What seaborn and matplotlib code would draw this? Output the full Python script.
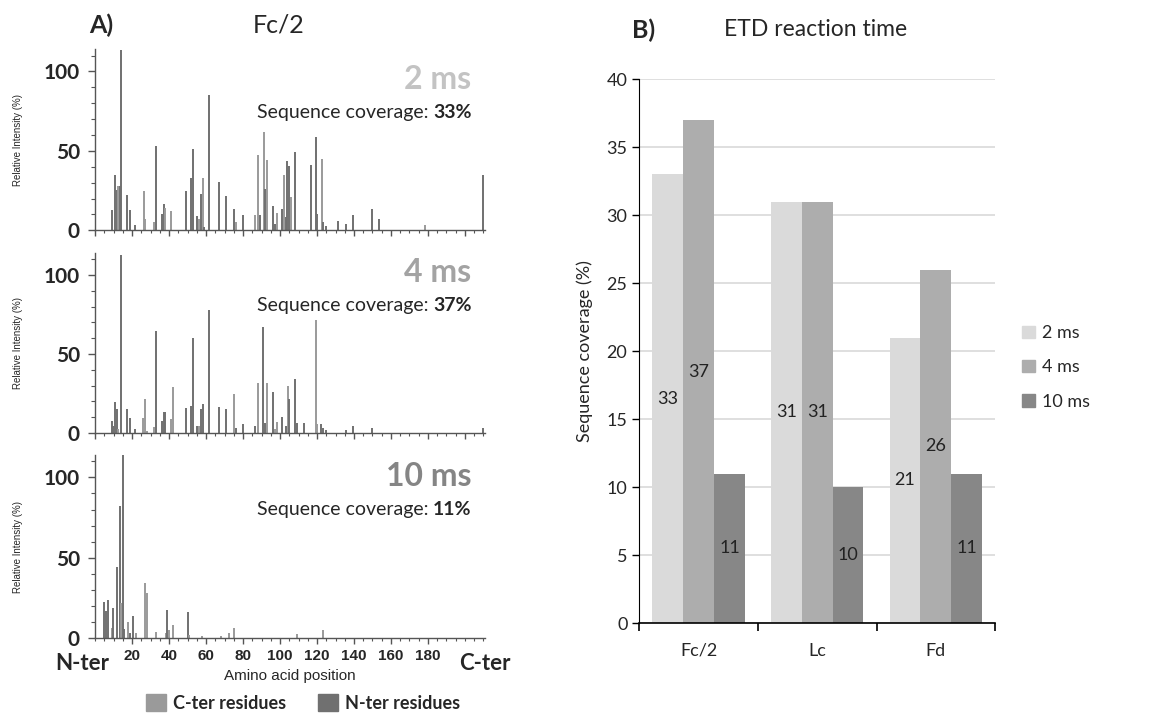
import numpy as np
import pandas as pd
import matplotlib
matplotlib.use("Agg")
import matplotlib.pyplot as plt
from matplotlib.ticker import MultipleLocator
from matplotlib.patches import Patch
import seaborn as sns

# ---- panel A: fragment spectra (position, relative intensity, terminus type) ----
pos_2ms = [9, 10.8, 11.7, 12.6, 13.2, 14.1, 17.3, 19.1, 21.3, 26.4, 26.9, 32, 33, 36, 37, 38, 41,
           49, 51.7, 52.8, 55, 56, 57.3, 58.2, 59.1, 61.3, 67, 70.5, 75.1, 76, 80.2, 86.5, 87.8,
           89.2, 91.2, 92, 93.2, 96.1, 97, 98.2, 101, 102.2, 103, 104, 105, 105.8, 108, 117,
           119.3, 120, 122.6, 123.4, 125, 131.6, 135.7, 139.3, 149.5, 153.5, 178.4, 210]
int_2ms = [12.6, 34.6, 25.6, 28, 28, 113.6, 22.4, 12.6, 3.6, 24.7, 7, 5, 52.8, 10.5, 16.4, 14.3, 12.2,
           24.5, 33, 51.4, 8.8, 7, 23, 33, 2, 85, 30.4, 21.8, 13.6, 5.2, 9.4, 9.9, 47.6,
           9.9, 61.8, 25.8, 44, 15, 4, 11, 13.6, 34.6, 8.4, 43.4, 40.5, 21, 49.3, 40.9,
           59, 10.5, 44.7, 5.2, 2.5, 5.9, 3.8, 9.4, 13.6, 7, 3.6, 35]
ter_2ms = list("NNNCNNNNNCCCNNNCC"
               "NNNNCNCNNNNNCNCCN"
               "CNCNNCNCNNNCNNNNC"
               "NNNNNNNCNNC")

pos_4ms = [9, 9.8, 10.8, 11.7, 12.6, 14.1, 17.3, 19.1, 21.3, 25.8, 26.9, 28, 32, 33, 36, 37, 38, 41,
           42.2, 49, 52, 53, 55.3, 56.2, 57.3, 58.4, 61.3, 67, 70.5, 75.1, 76, 80.2, 86.5, 88,
           91, 92, 93.2, 96.4, 97.3, 98.2, 101, 103.2, 104.1, 105, 108, 109.4, 113, 119.3,
           120.2, 122.2, 123.1, 125, 135.5, 139.6, 149.5, 209.8]
int_4ms = [7.7, 4, 19.6, 15.4, 2.3, 112.7, 14.8, 9.2, 2.3, 9.6, 21.3, 1, 3.5, 64.4, 7.7, 13.3, 13.3, 8.8,
           29, 16, 17, 60, 4.6, 4, 15, 18.5, 78, 16.5, 14.8, 24.8, 3.3, 5.4, 4, 31.9,
           67, 6, 31.5, 25.8, 2.3, 7, 10.2, 4.4, 30, 21.7, 34, 6, 6, 71.7,
           5.6, 5.4, 3.3, 2, 2, 4.6, 3, 3.3]
ter_4ms = list("NNNNCNNNNCCCCNNNNC"
               "CNNNNCNNNNNCNNNCN"
               "NCNCCNNCNNNNCCN"
               "NNNNNNNN")

pos_10ms = [4.9, 5.8, 6.7, 9, 9.9, 12, 13.2, 13.9, 15.3, 15.8, 18, 19, 20.2, 22, 27, 28, 33,
            38.2, 39.1, 40, 42, 50.2, 51, 58, 68, 72.5, 75.3, 109, 123]
int_10ms = [22.4, 16.7, 24, 6.5, 18.8, 44, 82.5, 22, 115, 5.7, 10.3, 3, 13.5, 3.4, 34, 28, 4,
            3.4, 17.7, 5, 8.2, 16, 1.9, 1.5, 1.5, 3, 6.1, 2.3, 5]
ter_10ms = list("NNNCNNNCNNCNNCCCC"
                "CNCCNCCCCCCC")

times = ["2 ms", "4 ms", "10 ms"]
coverage_A = ["33%", "37%", "11%"]
time_colors = ["#c3c3c3", "#a3a3a3", "#858585"]

# ---- panel B: sequence coverage ----
proteins = ["Fc/2", "Lc", "Fd"]
cov_2ms = [33, 31, 21]
cov_4ms = [37, 31, 26]
cov_10ms = [11, 10, 11]

sns.set_style("white")
plt.rcParams["font.family"] = ["Lato", "DejaVu Sans"]
narrow = ["Liberation Sans Narrow", "Liberation Sans", "DejaVu Sans"]

C_COL = "#9a9a9a"
N_COL = "#707070"

fig = plt.figure(figsize=(11.75, 7.13), dpi=100)

spectra = [(pos_2ms, int_2ms, ter_2ms), (pos_4ms, int_4ms, ter_4ms), (pos_10ms, int_10ms, ter_10ms)]
boxes = [[0.081, 0.677, 0.332, 0.254],
         [0.081, 0.393, 0.332, 0.252],
         [0.081, 0.105, 0.332, 0.257]]
time_y = [0.83, 0.89, 0.88]
cov_y = [0.65, 0.71, 0.70]

for i, (pos, inten, ter) in enumerate(spectra):
    ax = fig.add_axes(boxes[i])
    cols = [C_COL if t == "C" else N_COL for t in ter]
    ax.vlines(pos, 0, inten, colors=cols, lw=1.4)
    ax.set_xlim(0, 211)
    ax.set_ylim(0, 114)
    for s in ["top", "right"]:
        ax.spines[s].set_visible(False)
    for s in ["left", "bottom"]:
        ax.spines[s].set_color("#555555")
        ax.spines[s].set_linewidth(1.0)
    ax.set_yticks([0, 50, 100])
    ax.yaxis.set_minor_locator(MultipleLocator(10))
    ax.xaxis.set_major_locator(MultipleLocator(20))
    ax.xaxis.set_minor_locator(MultipleLocator(5))
    ax.tick_params(axis="y", which="major", length=5, width=1, color="#555555",
                   labelsize=15, pad=6, left=True)
    ax.tick_params(axis="y", which="minor", length=3, width=0.8, color="#555555", left=True)
    ax.tick_params(axis="x", which="major", length=4, width=1, color="#555555", bottom=True)
    ax.tick_params(axis="x", which="minor", length=2.5, width=0.8, color="#555555", bottom=True)
    for lab in ax.get_yticklabels():
        lab.set_fontweight("bold")
    ax.set_ylabel("Relative Intensity (%)", fontsize=7, family=narrow, labelpad=15)

    if i < 2:
        ax.set_xticklabels([])
    else:
        ax.set_xticks(np.arange(20, 181, 20))
        ax.set_xticklabels([str(v) for v in range(20, 181, 20)], family=narrow,
                           fontsize=11, fontweight="bold")
        ax.text(-7, -9, "N-ter", ha="center", va="top", fontsize=16, fontweight="bold")
        ax.text(211, -9, "C-ter", ha="center", va="top", fontsize=16, fontweight="bold")
        ax.set_xlabel("Amino acid position", family=narrow, fontsize=11, labelpad=5)

    ax.text(0.965, time_y[i], times[i], transform=ax.transAxes, ha="right", va="center",
            fontsize=23, fontweight="bold", color=time_colors[i])
    bold = ax.text(0.965, cov_y[i], coverage_A[i], transform=ax.transAxes, ha="right",
                   va="center", fontsize=14, fontweight="bold")
    ax.annotate("Sequence coverage: ", xy=(0, 0.5), xycoords=bold, ha="right",
                va="center", fontsize=14)

fig.text(0.076, 0.965, "A)", fontsize=18, fontweight="bold", va="center")
fig.text(0.237, 0.965, "Fc/2", fontsize=18, ha="center", va="center")

# legend of panel A
fig.legend(handles=[Patch(color=C_COL), Patch(color=N_COL)],
           labels=["C-ter residues", "N-ter residues"], ncol=2, frameon=False,
           loc="center", bbox_to_anchor=(0.258, 0.014), handlelength=1.1,
           handleheight=1.1, handletextpad=0.4, columnspacing=1.8,
           prop={"weight": "bold", "size": 13})

# ---- panel B ----
df = pd.DataFrame({
    "protein": proteins * 3,
    "time": ["2 ms"] * 3 + ["4 ms"] * 3 + ["10 ms"] * 3,
    "coverage": cov_2ms + cov_4ms + cov_10ms,
})

axb = fig.add_axes([0.544, 0.126, 0.303, 0.763])
sns.barplot(data=df, x="protein", y="coverage", hue="time", order=proteins,
            hue_order=times, palette=["#dadada", "#adadad", "#878787"],
            saturation=1, width=0.78, ax=axb, legend=False, edgecolor="none")
for cont in axb.containers:
    axb.bar_label(cont, label_type="center", fontsize=13, color="#222222")

axb.set_ylim(0, 40)
axb.set_xlim(-0.5, 2.5)
axb.set_yticks(np.arange(0, 41, 5))
axb.yaxis.grid(True, color="#d9d9d9", lw=1.2)
axb.set_axisbelow(True)
for s in ["top", "right"]:
    axb.spines[s].set_visible(False)
axb.spines["left"].set_color("black")
axb.spines["bottom"].set_color("black")
axb.spines["bottom"].set_linewidth(1.2)
axb.tick_params(axis="y", length=5, width=1, color="black", labelsize=13, left=True)
axb.set_xticks([-0.5, 0.5, 1.5, 2.5], minor=True)
axb.tick_params(axis="x", which="minor", length=6, width=1.2, color="black", bottom=True)
axb.tick_params(axis="x", which="major", length=0, labelsize=13, pad=14)
axb.set_xlabel("")
axb.set_ylabel("Sequence coverage (%)", fontsize=13, labelpad=10)

handles = [Patch(color=c) for c in ["#dadada", "#adadad", "#878787"]]
axb.legend(handles, times, frameon=False, loc="center left", bbox_to_anchor=(1.03, 0.47),
           handlelength=0.7, handleheight=0.7, handletextpad=0.4, labelspacing=1.0,
           fontsize=13)

fig.text(0.538, 0.958, "B)", fontsize=18, fontweight="bold", va="center")
fig.text(0.694, 0.958, "ETD reaction time", fontsize=16.5, ha="center", va="center")

fig.savefig("out.png", dpi=100)
